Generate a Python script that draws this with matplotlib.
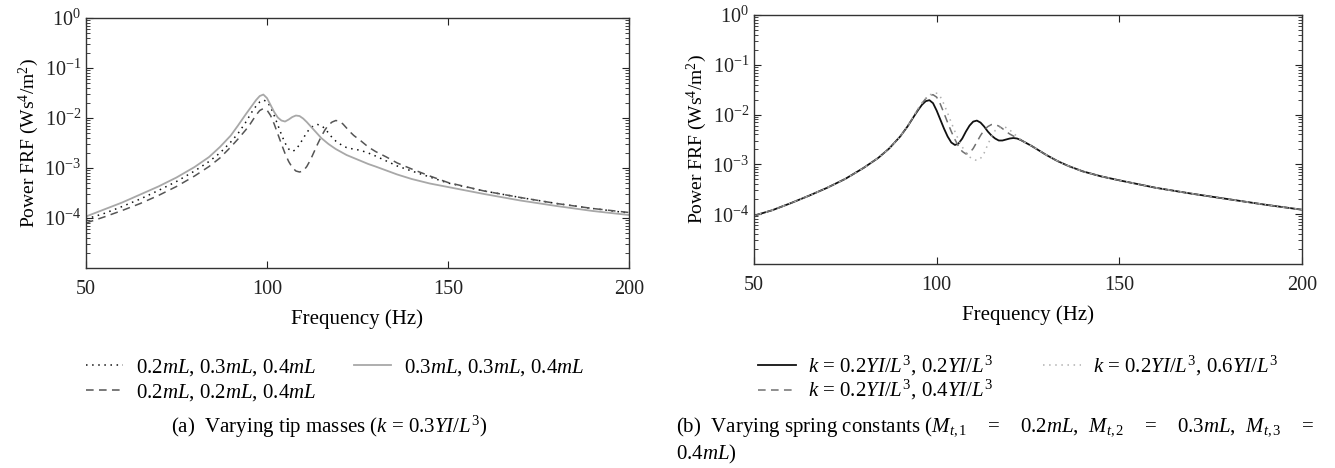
import numpy as np
import matplotlib
matplotlib.use("Agg")
from matplotlib import pyplot as plt
from matplotlib.ticker import FixedLocator, LogLocator, LogFormatterMathtext, NullFormatter

plt.rcParams['font.family'] = ['Liberation Serif', 'DejaVu Serif']
plt.rcParams['mathtext.fontset'] = 'custom'
plt.rcParams['mathtext.rm'] = 'Liberation Serif'
plt.rcParams['mathtext.it'] = 'Liberation Serif:italic'

# frequency grid (Hz)
freq = [50, 55, 60, 65, 70, 75, 80, 84, 87, 90, 92, 94,
        95, 96, 97, 98, 99, 100, 101, 102, 103, 104, 105, 106, 107, 108, 109,
        110, 111, 112, 113, 114, 115, 116, 117, 118, 119, 120, 121, 122, 123, 124,
        126, 128, 130, 133, 136, 140, 145, 150, 160, 170, 180, 190, 200]

# (a) varying tip masses, log10 of power FRF
tip_234_log = [-4.02, -3.91, -3.77, -3.62, -3.45, -3.27, -3.06, -2.87, -2.70, -2.48, -2.31, -2.10,
               -1.98, -1.86, -1.76, -1.68, -1.64, -1.67, -1.78, -1.95, -2.14, -2.33, -2.50, -2.62, -2.67, -2.63, -2.53,
               -2.41, -2.29, -2.20, -2.15, -2.13, -2.15, -2.21, -2.30, -2.39, -2.46, -2.51, -2.56, -2.59, -2.61, -2.62,
               -2.65, -2.70, -2.76, -2.86, -2.96, -3.06, -3.18, -3.30, -3.46, -3.59, -3.71, -3.81, -3.90]
tip_224_log = [-4.10, -3.98, -3.85, -3.71, -3.55, -3.37, -3.16, -2.97, -2.80, -2.58, -2.42, -2.25,
               -2.16, -2.05, -1.94, -1.85, -1.81, -1.84, -1.95, -2.12, -2.32, -2.52, -2.71, -2.87, -2.99, -3.06, -3.08,
               -3.06, -2.97, -2.84, -2.68, -2.52, -2.37, -2.24, -2.14, -2.08, -2.05, -2.06, -2.12, -2.20, -2.28, -2.35,
               -2.46, -2.58, -2.67, -2.78, -2.90, -3.02, -3.16, -3.29, -3.46, -3.59, -3.71, -3.81, -3.89]
tip_334_log = [-3.97, -3.83, -3.69, -3.53, -3.37, -3.19, -2.98, -2.78, -2.58, -2.35, -2.15, -1.94,
               -1.84, -1.74, -1.64, -1.56, -1.53, -1.60, -1.74, -1.88, -1.99, -2.05, -2.07, -2.03, -1.98, -1.95, -1.96,
               -2.01, -2.08, -2.16, -2.24, -2.32, -2.40, -2.46, -2.52, -2.57, -2.62, -2.66, -2.70, -2.74, -2.77, -2.80,
               -2.86, -2.92, -2.97, -3.05, -3.13, -3.22, -3.31, -3.38, -3.52, -3.65, -3.76, -3.86, -3.94]

# (b) varying spring constants
k_22_log = [-4.03, -3.92, -3.78, -3.63, -3.47, -3.29, -3.07, -2.87, -2.68, -2.44, -2.24, -2.01,
            -1.90, -1.80, -1.73, -1.71, -1.77, -1.92, -2.10, -2.28, -2.44, -2.56, -2.61, -2.58, -2.48, -2.34, -2.22,
            -2.14, -2.12, -2.16, -2.24, -2.34, -2.42, -2.48, -2.52, -2.52, -2.50, -2.48, -2.47, -2.48, -2.51, -2.55,
            -2.63, -2.72, -2.81, -2.93, -3.03, -3.14, -3.24, -3.32, -3.47, -3.59, -3.70, -3.81, -3.91]
k_24_log = [-4.03, -3.92, -3.78, -3.63, -3.47, -3.29, -3.07, -2.87, -2.68, -2.44, -2.24, -2.00,
            -1.88, -1.77, -1.68, -1.62, -1.60, -1.65, -1.79, -1.97, -2.16, -2.34, -2.50, -2.64, -2.74, -2.79, -2.77,
            -2.68, -2.55, -2.42, -2.31, -2.24, -2.20, -2.20, -2.23, -2.28, -2.34, -2.39, -2.43, -2.47, -2.51, -2.55,
            -2.63, -2.72, -2.81, -2.93, -3.03, -3.14, -3.24, -3.32, -3.47, -3.59, -3.70, -3.81, -3.91]
k_26_log = [-4.03, -3.92, -3.78, -3.63, -3.47, -3.29, -3.07, -2.87, -2.68, -2.44, -2.24, -1.99,
            -1.87, -1.76, -1.67, -1.61, -1.57, -1.57, -1.64, -1.79, -1.97, -2.16, -2.34, -2.51, -2.65, -2.76, -2.85,
            -2.90, -2.92, -2.88, -2.77, -2.60, -2.44, -2.32, -2.26, -2.24, -2.26, -2.31, -2.37, -2.44, -2.50, -2.55,
            -2.63, -2.72, -2.81, -2.93, -3.03, -3.14, -3.24, -3.32, -3.47, -3.59, -3.70, -3.81, -3.91]

labels_a = [r'0.2$mL$, 0.3$mL$, 0.4$mL$', r'0.2$mL$, 0.2$mL$, 0.4$mL$', r'0.3$mL$, 0.3$mL$, 0.4$mL$']
labels_b = [r'$k$ = 0.2$YI/L^3$, 0.2$YI/L^3$', r'$k$ = 0.2$YI/L^3$, 0.4$YI/L^3$', r'$k$ = 0.2$YI/L^3$, 0.6$YI/L^3$']

fig = plt.figure(figsize=(13.35, 4.68), dpi=100)
ax1 = fig.add_axes([0.0644, 0.4274, 0.4067, 0.534])
ax2 = fig.add_axes([0.5648, 0.4359, 0.4105, 0.532])

f = np.array(freq)
ax1.plot(f, 10 ** np.array(tip_234_log), color='#111111', lw=1.1, ls=(0, (1, 3)), label=labels_a[0])
ax1.plot(f, 10 ** np.array(tip_224_log), color='#555555', lw=1.1, ls=(0, (5, 3.5)), label=labels_a[1])
ax1.plot(f, 10 ** np.array(tip_334_log), color='#a8a8a8', lw=1.3, ls='-', label=labels_a[2])

ax2.plot(f, 10 ** np.array(k_22_log), color='#111111', lw=1.3, ls='-', label=labels_b[0])
ax2.plot(f, 10 ** np.array(k_24_log), color='#707070', lw=1.1, ls=(0, (5, 3.5)), label=labels_b[1])
ax2.plot(f, 10 ** np.array(k_26_log), color='#b0b0b0', lw=1.1, ls=(0, (1, 3)), label=labels_b[2])

for ax in (ax1, ax2):
    ax.set_yscale('log')
    ax.set_xlim(50, 200)
    ax.set_ylim(1e-5, 1)
    ax.set_xticks([50, 100, 150, 200])
    ax.yaxis.set_major_locator(FixedLocator([1e-4, 1e-3, 1e-2, 1e-1, 1]))
    ax.yaxis.set_major_formatter(LogFormatterMathtext())
    ax.yaxis.set_minor_locator(LogLocator(base=10, subs=np.arange(2, 10)))
    ax.yaxis.set_minor_formatter(NullFormatter())
    ax.tick_params(which='both', direction='in', top=True, right=True, labelsize=14.5, colors='#222222')
    ax.tick_params(axis='x', which='major', pad=9)
    ax.tick_params(which='major', length=5)
    ax.tick_params(which='minor', length=3)
    for s in ax.spines.values():
        s.set_color('#333333')
        s.set_linewidth(1.0)
    ax.set_xlabel('Frequency (Hz)', fontsize=15, labelpad=7)
    ax.set_ylabel(r'Power FRF (Ws$^{4}$/m$^{2}$)', fontsize=14, labelpad=2)

h, l = ax1.get_legend_handles_labels()
fig.legend(h, l, loc='upper left', bbox_to_anchor=(0.0644, 0.237), ncol=2, frameon=False,
           fontsize=15, handlelength=1.8, handletextpad=0.6, columnspacing=1.8,
           labelspacing=0.2, borderpad=0, borderaxespad=0)
h, l = ax2.get_legend_handles_labels()
fig.legend(h, l, loc='upper left', bbox_to_anchor=(0.5678, 0.243), ncol=2, frameon=False,
           fontsize=15, handlelength=1.8, handletextpad=0.6, columnspacing=2.4,
           labelspacing=0.0, borderpad=0, borderaxespad=0)

fig.text(0.2464, 0.0876, r'(a)  Varying tip masses ($k$ = 0.3$YI/L^3$)', fontsize=15,
         ha='center', va='center')
fig.text(0.5064, 0.0876,
         r'(b)  Varying spring constants ($M_{t,1}$    =    0.2$mL$,  $M_{t,2}$    =    0.3$mL$,  $M_{t,3}$    =',
         fontsize=15, ha='left', va='center')
fig.text(0.5064, 0.028, r'0.4$mL$)', fontsize=15, ha='left', va='center')

fig.savefig('out.png', dpi=100)
